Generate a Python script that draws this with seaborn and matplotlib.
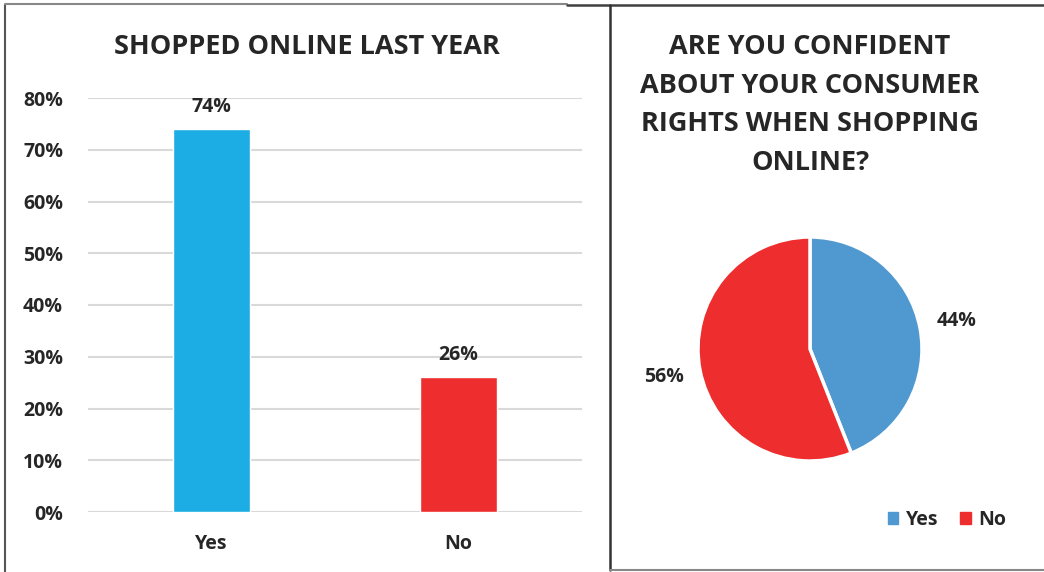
import matplotlib
matplotlib.use("Agg")
import matplotlib.pyplot as plt
import seaborn as sns
import pandas as pd
from matplotlib.patches import Rectangle
from matplotlib.lines import Line2D
from matplotlib.ticker import FuncFormatter

# Data
bar_categories = ["Yes", "No"]
bar_values = [0.74, 0.26]
bar_title = "SHOPPED ONLINE LAST YEAR"
y_ticks = [0, 0.1, 0.2, 0.3, 0.4, 0.5, 0.6, 0.7, 0.8]

pie_categories = ["Yes", "No"]
pie_values = [44, 56]
pie_title = "ARE YOU CONFIDENT\nABOUT YOUR CONSUMER\nRIGHTS WHEN SHOPPING\nONLINE?"

bar_colors = ["#1BADE3", "#EE2E2E"]
pie_colors = ["#4F98D0", "#EE2E2E"]

sns.set_theme(style="white")
plt.rcParams["font.family"] = ["Open Sans", "DejaVu Sans"]
plt.rcParams["font.weight"] = "bold"
TXT = "#262626"
FS_T = 19.5
FS = 14

W, H = 1044, 572
fig = plt.figure(figsize=(W / 100, H / 100), dpi=100)
fig.patch.set_facecolor("white")

def fx(px):
    return px / W

def fy(py):
    return 1 - py / H

# Panel borders
fig.add_artist(Line2D([fx(5), fx(5)], [fy(5), fy(575)], color="#555555", lw=1.5))
fig.add_artist(Line2D([fx(5), fx(567)], [fy(4), fy(4)], color="#888888", lw=1.5))
fig.add_artist(Line2D([fx(567), fx(1044)], [fy(5), fy(5)], color="#404040", lw=1.8))
fig.add_artist(Line2D([fx(610), fx(610)], [fy(5), fy(570)], color="#333333", lw=1.8))
fig.add_artist(Line2D([fx(610), fx(1044)], [fy(570), fy(570)], color="#888888", lw=1.5))

# Bar chart
ax = fig.add_axes([fx(88), fy(512), fx(582) - fx(88), fy(98) - fy(512)])
df = pd.DataFrame({"cat": bar_categories, "val": bar_values})
sns.barplot(data=df, x="cat", y="val", hue="cat", palette=bar_colors,
            width=0.315, legend=False, ax=ax, saturation=1)
ax.set_xlim(-0.5, 1.5)
ax.set_ylim(0, 0.8)
ax.set_yticks(y_ticks)
ax.yaxis.set_major_formatter(FuncFormatter(lambda v, p: f"{v*100:.0f}%"))
ax.yaxis.grid(True, color="#D9D9D9", lw=1.5)
ax.set_axisbelow(True)
for s in ax.spines.values():
    s.set_visible(False)
ax.set_xlabel("")
ax.set_ylabel("")
ax.tick_params(axis="y", length=0, pad=18, labelsize=FS, labelcolor=TXT)
ax.tick_params(axis="x", length=0, pad=15.5, labelsize=FS, labelcolor=TXT)
for lbl in ax.get_xticklabels() + ax.get_yticklabels():
    lbl.set_fontweight("bold")
for i, v in enumerate(bar_values):
    ax.annotate(f"{v*100:.0f}%", (i, v), xytext=(0, 9), textcoords="offset points",
                ha="center", va="bottom", fontsize=FS, fontweight="bold", color=TXT)
fig.text(fx(307), fy(47), bar_title, ha="center", va="center",
         fontsize=FS_T, fontweight="bold", color=TXT)

# Pie chart
r = 112
pax = fig.add_axes([fx(810 - r), fy(349 + r), fx(2 * r), fy(349 - r) - fy(349 + r)])
wedges, texts, autotexts = pax.pie(
    pie_values, colors=pie_colors, startangle=90, counterclock=False,
    autopct=lambda p: f"{p:.0f}%", pctdistance=1.33,
    wedgeprops=dict(edgecolor="white", linewidth=2.5),
    textprops=dict(fontsize=FS, fontweight="bold", color=TXT))
pax.set_xlim(-1, 1)
pax.set_ylim(-1, 1)
pax.set_aspect("equal")
pax.axis("off")

fig.text(fx(810), fy(105), pie_title, ha="center", va="center",
         fontsize=FS_T, fontweight="bold", color=TXT, linespacing=1.64)

handles = [Rectangle((0, 0), 1, 1, color=c) for c in pie_colors]
fig.legend(handles, pie_categories, loc="center", bbox_to_anchor=(fx(947), fy(520)),
           ncol=2, frameon=False, handlelength=0.55, handleheight=0.55,
           handletextpad=0.4, columnspacing=1.1,
           prop=dict(size=FS, weight="bold"), labelcolor=TXT)

fig.savefig("out.png", dpi=100)
